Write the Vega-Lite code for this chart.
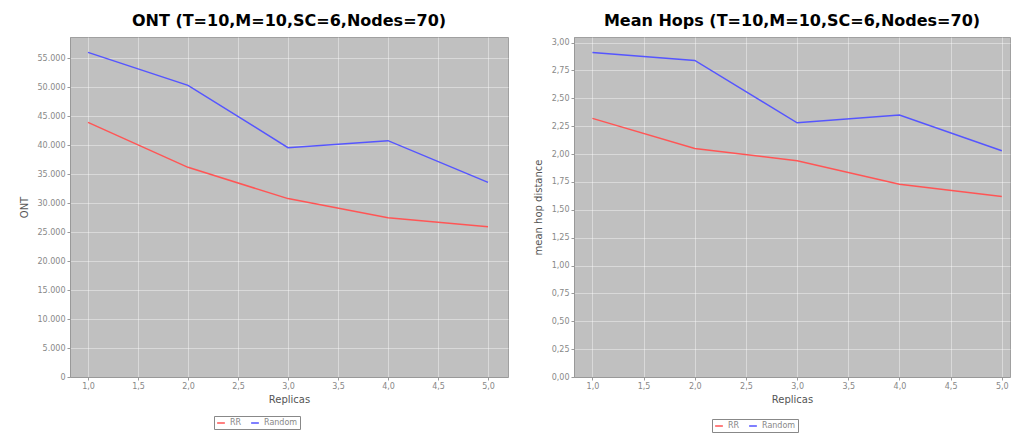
{
  "$schema": "https://vega.github.io/schema/vega-lite/v6.json",
  "padding": {"left": 18, "top": 12, "right": 0, "bottom": 0},
  "background": "white",
  "spacing": 23,
  "datasets": {
    "ont": [
      {"Replicas": 1, "value": 43950, "series": "RR"},
      {"Replicas": 2, "value": 36200, "series": "RR"},
      {"Replicas": 3, "value": 30800, "series": "RR"},
      {"Replicas": 4, "value": 27500, "series": "RR"},
      {"Replicas": 5, "value": 25950, "series": "RR"},
      {"Replicas": 1, "value": 56050, "series": "Random"},
      {"Replicas": 2, "value": 50350, "series": "Random"},
      {"Replicas": 3, "value": 39600, "series": "Random"},
      {"Replicas": 4, "value": 40800, "series": "Random"},
      {"Replicas": 5, "value": 33600, "series": "Random"}
    ],
    "hops": [
      {"Replicas": 1, "value": 2.32, "series": "RR"},
      {"Replicas": 2, "value": 2.05, "series": "RR"},
      {"Replicas": 3, "value": 1.94, "series": "RR"},
      {"Replicas": 4, "value": 1.73, "series": "RR"},
      {"Replicas": 5, "value": 1.62, "series": "RR"},
      {"Replicas": 1, "value": 2.91, "series": "Random"},
      {"Replicas": 2, "value": 2.84, "series": "Random"},
      {"Replicas": 3, "value": 2.28, "series": "Random"},
      {"Replicas": 4, "value": 2.35, "series": "Random"},
      {"Replicas": 5, "value": 2.03, "series": "Random"}
    ]
  },
  "config": {
    "font": "DejaVu Sans",
    "view": {"fill": "#c0c0c0", "stroke": "#a0a0a0"},
    "title": {"font": "DejaVu Sans", "fontSize": 16, "fontWeight": "bold", "color": "#000", "offset": 8},
    "axis": {
      "labelFont": "DejaVu Sans", "labelFontSize": 8, "labelColor": "#888",
      "titleFont": "DejaVu Sans", "titleFontSize": 10, "titleFontWeight": "normal", "titleColor": "#555",
      "gridColor": "#ffffff", "gridOpacity": 0.5, "gridWidth": 0.8,
      "domainColor": "#999", "tickColor": "#999", "tickSize": 3
    },
    "legend": {
      "orient": "none", "direction": "horizontal", "title": null,
      "labelFont": "DejaVu Sans", "labelFontSize": 8, "labelColor": "#888",
      "symbolType": "stroke", "symbolStrokeWidth": 1.5, "symbolSize": 60,
      "strokeColor": "#888", "padding": 2, "columnPadding": 6, "symbolOffset": 0
    }
  },
  "resolve": {"scale": {"color": "independent"}, "legend": {"color": "independent"}},
  "hconcat": [
    {
      "width": 438,
      "height": 340,
      "title": "ONT (T=10,M=10,SC=6,Nodes=70)",
      "data": {"name": "ont"},
      "mark": {"type": "line", "strokeWidth": 1.5, "clip": true},
      "encoding": {
        "x": {"field": "Replicas", "type": "quantitative", "title": "Replicas",
              "scale": {"domain": [0.82, 5.2], "nice": false, "zero": false},
              "axis": {"values": [1, 1.5, 2, 2.5, 3, 3.5, 4, 4.5, 5], "labelExpr": "replace(format(datum.value, '.1f'), '.', ',')", "titlePadding": 4}},
        "y": {"field": "value", "type": "quantitative", "title": "ONT",
              "scale": {"domain": [0, 58700], "nice": false},
              "axis": {"values": [0, 5000, 10000, 15000, 20000, 25000, 30000, 35000, 40000, 45000, 50000, 55000], "labelExpr": "replace(format(datum.value, ',d'), ',', '.')", "titlePadding": 8}},
        "color": {"field": "series", "type": "nominal",
                  "scale": {"domain": ["RR", "Random"], "range": ["#ff5555", "#5555ff"]},
                  "legend": {"legendX": 144, "legendY": 379}}
      }
    },
    {
      "width": 436,
      "height": 340,
      "title": "Mean Hops (T=10,M=10,SC=6,Nodes=70)",
      "data": {"name": "hops"},
      "mark": {"type": "line", "strokeWidth": 1.5, "clip": true},
      "encoding": {
        "x": {"field": "Replicas", "type": "quantitative", "title": "Replicas",
              "scale": {"domain": [0.82, 5.08], "nice": false, "zero": false},
              "axis": {"values": [1, 1.5, 2, 2.5, 3, 3.5, 4, 4.5, 5], "labelExpr": "replace(format(datum.value, '.1f'), '.', ',')", "titlePadding": 4}},
        "y": {"field": "value", "type": "quantitative", "title": "mean hop distance",
              "scale": {"domain": [0, 3.05], "nice": false},
              "axis": {"values": [0, 0.25, 0.5, 0.75, 1, 1.25, 1.5, 1.75, 2, 2.25, 2.5, 2.75, 3], "labelExpr": "replace(format(datum.value, '.2f'), '.', ',')", "titlePadding": 8}},
        "color": {"field": "series", "type": "nominal",
                  "scale": {"domain": ["RR", "Random"], "range": ["#ff5555", "#5555ff"]},
                  "legend": {"legendX": 138, "legendY": 382}}
      }
    }
  ]
}
